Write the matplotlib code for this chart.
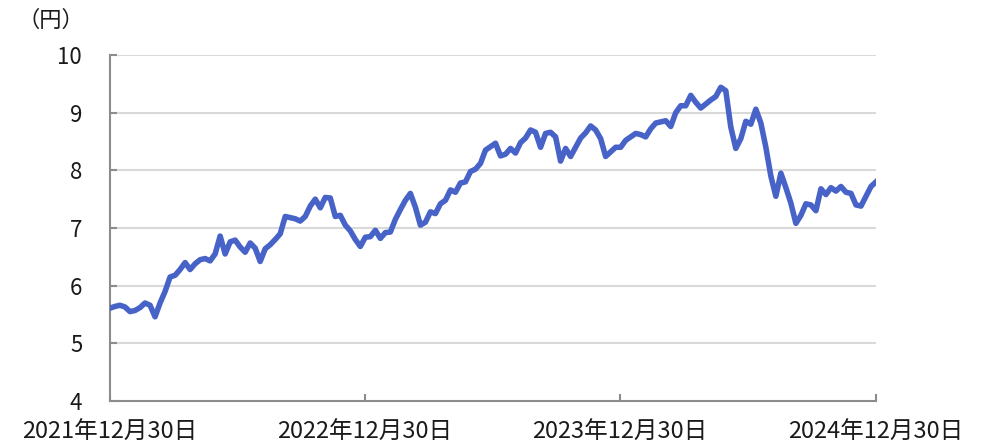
import matplotlib
matplotlib.use('Agg')
import matplotlib.pyplot as plt
import numpy as np
import pandas as pd

plt.rcParams['font.family'] = ['Noto Sans CJK JP', 'DejaVu Sans']

# price in yen, roughly weekly, 2021-12-30 .. 2024-12-30
start = '2021-12-30'
end = '2024-12-30'
values = [
	5.61, 5.64, 5.66, 5.63, 5.55, 5.57, 5.62, 5.70, 5.66, 5.46,
	5.70, 5.90, 6.15, 6.18, 6.28, 6.40, 6.28, 6.38, 6.45, 6.47,
	6.43, 6.55, 6.86, 6.55, 6.76, 6.79, 6.67, 6.58, 6.74, 6.65,
	6.42, 6.64, 6.71, 6.80, 6.90, 7.20, 7.18, 7.16, 7.12, 7.20,
	7.38, 7.50, 7.35, 7.53, 7.52, 7.20, 7.22, 7.05, 6.95, 6.80,
	6.68, 6.84, 6.85, 6.96, 6.82, 6.92, 6.93, 7.15, 7.32, 7.48,
	7.60, 7.36, 7.05, 7.10, 7.28, 7.25, 7.42, 7.48, 7.66, 7.62,
	7.78, 7.80, 7.98, 8.02, 8.12, 8.35, 8.41, 8.47, 8.25, 8.28,
	8.38, 8.30, 8.48, 8.56, 8.70, 8.66, 8.40, 8.64, 8.66, 8.58,
	8.16, 8.38, 8.24, 8.40, 8.56, 8.65, 8.77, 8.70, 8.55, 8.24,
	8.32, 8.40, 8.40, 8.52, 8.58, 8.64, 8.62, 8.58, 8.72, 8.82,
	8.84, 8.86, 8.76, 9.00, 9.12, 9.12, 9.30, 9.18, 9.08, 9.15,
	9.22, 9.28, 9.44, 9.38, 8.75, 8.38, 8.55, 8.85, 8.80, 9.06,
	8.82, 8.40, 7.90, 7.55, 7.95, 7.70, 7.43, 7.08, 7.22, 7.42,
	7.40, 7.30, 7.68, 7.58, 7.70, 7.64, 7.72, 7.62, 7.60, 7.40,
	7.38, 7.55, 7.72, 7.80,
]
dates = pd.date_range(start, end, periods=len(values))

tick_dates = pd.to_datetime(['2021-12-30', '2022-12-30', '2023-12-30', '2024-12-30'])
tick_labels = ['2021年12月30日', '2022年12月30日', '2023年12月30日', '2024年12月30日']
y_ticks = [4, 5, 6, 7, 8, 9, 10]

fig = plt.figure(figsize=(9.81, 4.46), dpi=100)
ax = fig.add_axes([110 / 981, 45 / 446, 766 / 981, 346 / 446])

ax.plot(dates, values, color='#4863C8', lw=4.0, solid_joinstyle='round', zorder=3)

ax.set_xlim(pd.Timestamp(start), pd.Timestamp(end))
ax.set_ylim(4, 10)
ax.set_yticks(y_ticks)
ax.set_xticks(tick_dates)
ax.set_xticklabels(tick_labels)

for y in y_ticks[1:]:
	ax.axhline(y, color='#d9d9d9', lw=1.5, zorder=1)

for side in ['top', 'right']:
	ax.spines[side].set_visible(False)
for side in ['left', 'bottom']:
	ax.spines[side].set_color('#8c8c8c')
	ax.spines[side].set_linewidth(1.5)
	ax.spines[side].set_zorder(2)

ax.tick_params(axis='both', direction='in', length=5, width=1.5, color='#8c8c8c',
	labelcolor='#1a1a1a')
ax.tick_params(axis='y', pad=20, labelsize=16)
ax.tick_params(axis='x', pad=14, labelsize=17)

fig.text(51 / 981, 1 - 20 / 446, '（円）', fontsize=16, color='#1a1a1a', ha='center', va='center')

fig.savefig('out.png', dpi=100)
